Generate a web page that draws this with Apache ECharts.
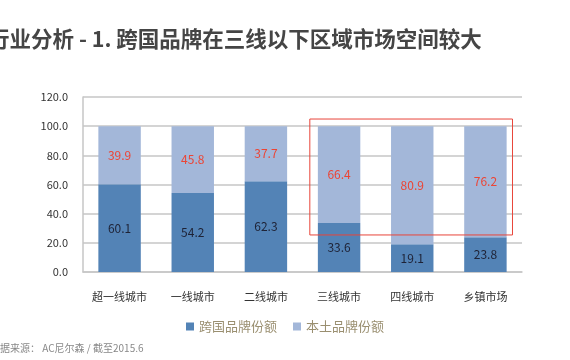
<!DOCTYPE html>
<html><head><meta charset="utf-8">
<script src="https://cdn.jsdelivr.net/npm/echarts@6/dist/echarts.min.js"></script>
<style>html,body{margin:0;padding:0;background:#fff}#c{width:570px;height:360px}</style>
</head><body><div id="c"></div>
<script>
const categories = ['超一线城市','一线城市','二线城市','三线城市','四线城市','乡镇市场'];
const foreignShare = [60.1, 54.2, 62.3, 33.6, 19.1, 23.8];
const localShare = [39.9, 45.8, 37.7, 66.4, 80.9, 76.2];
const seriesNames = ['跨国品牌份额','本土品牌份额'];
const yTicks = [0, 20, 40, 60, 80, 100, 120];
const titleText = '行业分析 - 1. 跨国品牌在三线以下区域市场空间较大';
const sourceText = '数据来源： AC尼尔森 / 截至2015.6';
const font = '"Noto Sans CJK SC", "Noto Sans", sans-serif';

const chart = echarts.init(document.getElementById('c'));
const option = {
  animation: false,
  textStyle: {fontFamily: font},
  grid: {left: 83, right: 48, top: 97, bottom: 88},
  legend: {
    data: seriesNames, bottom: 22, left: 'center',
    itemWidth: 8, itemHeight: 8, itemGap: 16, icon: 'rect',
    textStyle: {color: '#9a8f70', fontSize: 13, fontFamily: font}
  },
  xAxis: {
    type: 'category', data: categories,
    axisLine: {lineStyle: {color: '#c6c6c6', width: 1.5}},
    axisTick: {show: false},
    axisLabel: {color: '#333', fontSize: 11, margin: 19}
  },
  yAxis: {
    type: 'value', min: yTicks[0], max: yTicks[yTicks.length-1], interval: 20,
    axisLine: {show: true, lineStyle: {color: '#c6c6c6', width: 1.5}},
    axisTick: {show: false},
    splitLine: {lineStyle: {color: '#c6c6c6', width: 1.5}},
    axisLabel: {color: '#333', fontSize: 11, margin: 15, formatter: v => v.toFixed(1)}
  },
  series: [
    {name: seriesNames[0], type: 'bar', stack: 's', data: foreignShare, barWidth: '58%',
     itemStyle: {color: '#5383b6'},
     label: {show: true, position: 'inside', color: '#1e2235', fontSize: 12, formatter: p => p.value.toFixed(1)}},
    {name: seriesNames[1], type: 'bar', stack: 's', data: localShare, barWidth: '58%',
     itemStyle: {color: '#a3b7d9'},
     label: {show: true, position: 'inside', color: '#ec4434', fontSize: 12, formatter: p => p.value.toFixed(1)}}
  ]
};
chart.setOption(option);
// annotation box around categories 3..5 (lower-tier markets)
const p1 = chart.convertToPixel({gridIndex: 0}, [3, 25.4]);
const p2 = chart.convertToPixel({gridIndex: 0}, [5, 104.9]);
const band = (chart.convertToPixel({gridIndex:0},[1,0])[0] - chart.convertToPixel({gridIndex:0},[0,0])[0]);
const x0 = p1[0] - band * 0.40, x1 = p2[0] + band * 0.37;
chart.setOption({graphic: [
  {type: 'text', left: -12, top: 28, style: {text: titleText, font: 'bold 21.5px ' + font, fill: '#454545'}},
  {type: 'text', left: -10, top: 343, style: {text: sourceText, font: '10px ' + font, fill: '#888'}},
  {type: 'rect', shape: {x: x0, y: p2[1], width: x1 - x0, height: p1[1] - p2[1]},
   style: {fill: 'none', stroke: '#e8453a', lineWidth: 1}, z: 10}
]});
</script></body></html>
